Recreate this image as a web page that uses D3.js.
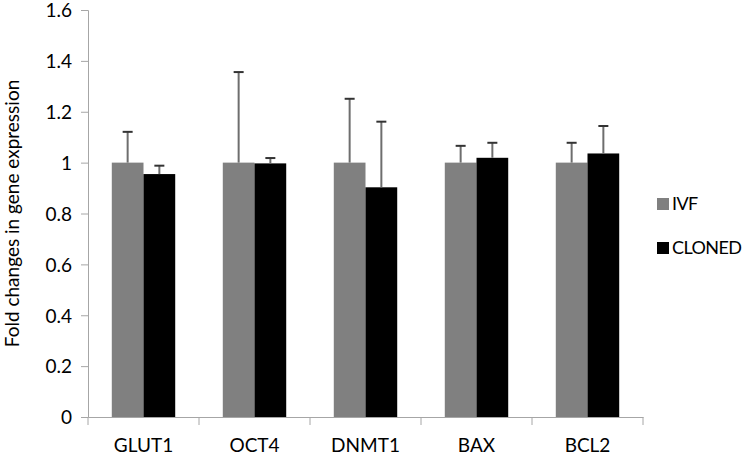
<!DOCTYPE html>
<html>
<head>
<meta charset="utf-8">
<script src="https://cdn.jsdelivr.net/npm/d3@7"></script>
<style>
  html, body { margin: 0; padding: 0; background: #fff; }
  svg text { font-family: Lato, "Open Sans", "Liberation Sans", sans-serif; fill: #000; }
</style>
</head>
<body>
<svg id="chart" width="742" height="455"></svg>
<script>
const categories = ["GLUT1", "OCT4", "DNMT1", "BAX", "BCL2"];
const seriesNames = ["IVF", "CLONED"];
const ivfValues = [1.0, 1.0, 1.0, 1.0, 1.0];
const clonedValues = [0.955, 0.997, 0.903, 1.019, 1.036];
const ivfErrors = [0.121, 0.356, 0.251, 0.066, 0.078];
const clonedErrors = [0.033, 0.021, 0.258, 0.059, 0.108];
const yTicks = [0, 0.2, 0.4, 0.6, 0.8, 1, 1.2, 1.4, 1.6];
const yTitle = "Fold changes in gene expression";
const colors = ["#808080", "#000000"];

(function () {
const svg = d3.select("#chart");
const mLeft = 88, mRight = 643, mTop = 10, mBottom = 417;

const y = d3.scaleLinear().domain([0, 1.6]).range([mBottom, mTop]);
const x0 = d3.scaleBand().domain(categories).range([mLeft, mRight]).paddingInner(0).paddingOuter(0);
const x1 = d3.scaleBand().domain(seriesNames).range([0, x0.bandwidth()]).paddingInner(0).paddingOuter(0.75);

const rows = categories.map((c, i) => ({
  cat: c,
  items: [
    { s: "IVF", v: ivfValues[i], e: ivfErrors[i] },
    { s: "CLONED", v: clonedValues[i], e: clonedErrors[i] }
  ]
}));

// Y axis
const yAxis = d3.axisLeft(y).tickValues(yTicks).tickSize(7).tickPadding(9)
  .tickFormat(d => d === 0 ? "0" : (Number.isInteger(d) ? String(d) : d3.format(".1f")(d)));
const gy = svg.append("g").attr("transform", `translate(${mLeft},0)`).call(yAxis);
gy.select(".domain").attr("stroke", "#a6a6a6").attr("stroke-width", 1);
gy.selectAll(".tick line").attr("stroke", "#a6a6a6");
gy.selectAll(".tick text").attr("font-size", 19).attr("fill", "#000").attr("dy", "0.36em");

// bars
const g = svg.append("g");
const groups = g.selectAll("g.grp").data(rows).join("g")
  .attr("class", "grp")
  .attr("transform", d => `translate(${x0(d.cat)},0)`);

groups.selectAll("rect").data(d => d.items).join("rect")
  .attr("x", d => x1(d.s))
  .attr("y", d => y(d.v))
  .attr("width", x1.bandwidth())
  .attr("height", d => y(0) - y(d.v))
  .attr("fill", (d, i) => colors[i]);

// error bars (upper only)
groups.selectAll("g.err").data(d => d.items).join("g")
  .attr("class", "err")
  .each(function(d) {
    const cx = x1(d.s) + x1.bandwidth() / 2;
    const sel = d3.select(this);
    sel.append("line").attr("x1", cx).attr("x2", cx)
      .attr("y1", y(d.v)).attr("y2", y(d.v + d.e))
      .attr("stroke", "#6e6e6e").attr("stroke-width", 2);
    sel.append("line").attr("x1", cx - 5).attr("x2", cx + 5)
      .attr("y1", y(d.v + d.e)).attr("y2", y(d.v + d.e))
      .attr("stroke", "#333").attr("stroke-width", 2);
  });

// X axis
const xAxis = d3.axisBottom(x0).tickSize(0).tickPadding(22);
const gx = svg.append("g").attr("transform", `translate(0,${mBottom})`).call(xAxis);
gx.select(".domain").attr("stroke", "#a6a6a6").attr("stroke-width", 1);
gx.selectAll(".tick text").attr("font-size", 19).attr("fill", "#000");
const bounds = categories.map(c => x0(c)).concat([x0(categories[categories.length - 1]) + x0.bandwidth()]);
gx.selectAll("line.bound").data(bounds).join("line")
  .attr("class", "bound")
  .attr("x1", d => d).attr("x2", d => d)
  .attr("y1", 0).attr("y2", 8)
  .attr("stroke", "#a6a6a6");

// Y title
svg.append("text")
  .attr("transform", `translate(19,${(mTop + mBottom) / 2}) rotate(-90)`)
  .attr("text-anchor", "middle")
  .attr("font-size", 19)
  .text(yTitle);

// Legend
const legend = svg.append("g").attr("transform", "translate(657,204)");
const li = legend.selectAll("g").data(seriesNames).join("g")
  .attr("transform", (d, i) => `translate(0,${i * 44})`);
li.append("rect").attr("x", 0).attr("y", -6).attr("width", 12).attr("height", 12)
  .attr("fill", (d, i) => colors[i]);
li.append("text").attr("x", 15).attr("y", 0).attr("dy", "0.35em")
  .attr("font-size", 18).attr("letter-spacing", -0.6).text(d => d);
})();
</script>
</body>
</html>
